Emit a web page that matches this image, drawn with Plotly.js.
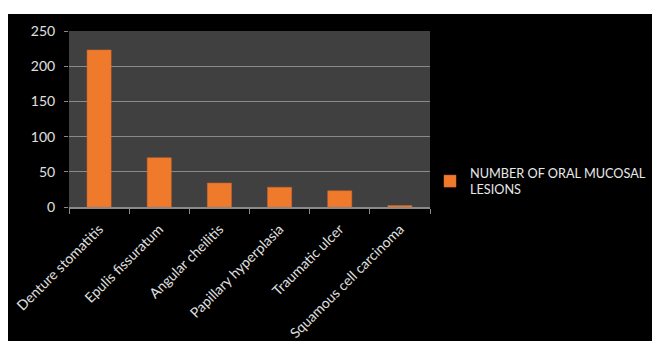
<!DOCTYPE html>
<html>
<head>
<meta charset="utf-8">
<script src="https://cdn.plot.ly/plotly-3.0.1.min.js"></script>
<style>
html,body{margin:0;padding:0;background:#ffffff;width:652px;height:341px;overflow:hidden;}
#chart{position:absolute;left:8px;top:14px;width:644px;height:327px;}
</style>
</head>
<body>
<div id="chart"></div>
<script>
var categories = ["Denture stomatitis","Epulis fissuratum","Angular cheilitis","Papillary hyperplasia","Traumatic ulcer","Squamous cell carcinoma"];
var lesionCounts = [223, 70, 34, 28, 23, 2];
var seriesName = "NUMBER OF ORAL MUCOSAL<br>LESIONS";
var yTicks = [0, 50, 100, 150, 200, 250];

var trace = {
  type: "bar",
  x: categories,
  y: lesionCounts,
  name: seriesName,
  marker: {color: "#F07A2C", line: {color: "#E0692A", width: 0.5}},
  hoverinfo: "x+y"
};

var layout = {
  width: 644, height: 327,
  paper_bgcolor: "#000000",
  plot_bgcolor: "#404040",
  margin: {l: 61, r: 222, t: 17, b: 134, autoexpand: false},
  bargap: 0.6,
  font: {family: "Lato, 'Open Sans', sans-serif", size: 13, color: "#e0e0e0"},
  showlegend: true,
  legend: {
    x: 1.0, xanchor: "left", y: 0.278, yanchor: "top",
    font: {size: 12.7, color: "#e8e8e8"},
    bgcolor: "rgba(0,0,0,0)"
  },
  xaxis: {
    type: "category",
    tickangle: -45,
    ticks: "outside", ticklen: 5, tickcolor: "#8a8a8a", tickwidth: 1,
    tickson: "boundaries",
    ticklabelstandoff: 7,
    showline: true, linecolor: "#8a8a8a", linewidth: 1.5,
    showgrid: false,
    tickfont: {size: 14, color: "#e0e0e0"}
  },
  yaxis: {
    range: [0, 250],
    tickvals: yTicks,
    ticks: "outside", ticklen: 4, tickcolor: "#8a8a8a",
    ticklabelstandoff: 6,
    showgrid: true, gridcolor: "#8a8a8a", gridwidth: 1.3,
    zeroline: false, showline: false,
    tickfont: {size: 14, color: "#e0e0e0"}
  }
};

Plotly.newPlot("chart", [trace], layout, {displayModeBar: false, staticPlot: true});
</script>
</body>
</html>
